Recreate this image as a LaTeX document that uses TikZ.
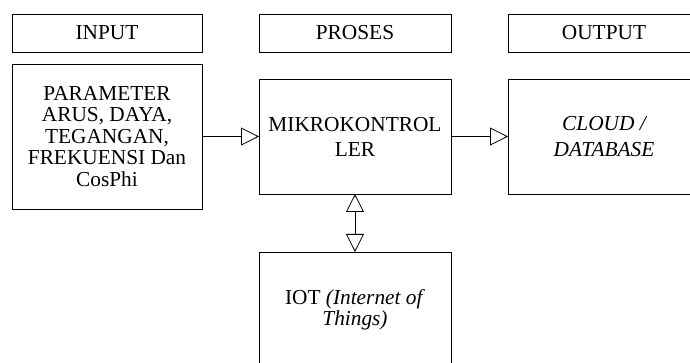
\documentclass[tikz,border=0pt]{standalone}
\usepackage{fontspec}
\setmainfont{Liberation Serif}
\usetikzlibrary{arrows.meta}
\tikzset{
  box/.style={draw=black, line width=0.6pt, inner sep=0pt, outer sep=0pt, align=center, anchor=north west, font=\fontsize{16}{16.1}\selectfont},
  hdr/.style={box, minimum height=28.5pt},
  arr/.style={draw=black, line width=0.6pt, -{Triangle[open, length=13.5pt, width=13.5pt]}},
  darr/.style={draw=black, line width=0.6pt, {Triangle[open, length=13.5pt, width=13.5pt]}-{Triangle[open, length=13.5pt, width=13.5pt]}}
}
\begin{document}
\begin{tikzpicture}[x=0.75pt, y=-0.75pt]
\useasboundingbox (0,0) rectangle (690,363);
\clip (0,0) rectangle (690,363);
\node[hdr, minimum width=142.5pt] (input) at (12,14) {INPUT};
\node[hdr, minimum width=144pt] (proses) at (259,14) {PROSES};
\node[hdr, minimum width=144pt] (output) at (508,14) {OUTPUT};
\node[box, minimum width=142.5pt, minimum height=108.75pt] (param) at (12,64)
  {PARAMETER\\ARUS, DAYA,\\TEGANGAN,\\FREKUENSI Dan\\CosPhi};
\node[box, minimum width=144pt, minimum height=86.25pt, font=\fontsize{16}{18.8}\selectfont] (mikro) at (259,79)
  {MIKROKONTROL\\LER};
\node[box, minimum width=144pt, minimum height=86.25pt, font=\fontsize{16}{19.3}\selectfont] (cloud) at (508,79)
  {\itshape CLOUD /\\\itshape DATABASE};
\node[box, minimum width=144pt, minimum height=87pt] (iot) at (259,252)
  {IOT \textit{(Internet of}\\\textit{Things)}};
\draw[arr] (param) -- (mikro);
\draw[arr] (mikro) -- (cloud);
\draw[darr] (mikro) -- (iot);
\end{tikzpicture}
\end{document}
